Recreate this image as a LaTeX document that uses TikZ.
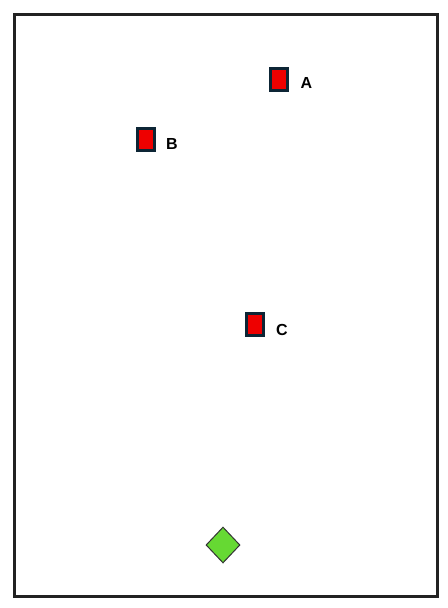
\documentclass[tikz,border=0pt]{standalone}
\usepackage{fontspec}
\setmainfont{Liberation Sans}
\usetikzlibrary{shapes.geometric}
\definecolor{frame}{HTML}{222222}
\definecolor{boxedge}{HTML}{0D2535}
\definecolor{boxred}{HTML}{EE0000}
\definecolor{green1}{HTML}{66D933}
\begin{document}
\begin{tikzpicture}[x=0.75pt,y=-0.75pt,
  redbox/.style={draw=boxedge,fill=boxred,line width=2.25pt,inner sep=0pt,minimum width=12.75pt,minimum height=16.5pt},
  lbl/.style={font=\fontsize{12pt}{14pt}\selectfont\bfseries,inner sep=0pt},
  goal/.style={diamond,draw=black!80,fill=green1,line width=0.75pt,inner sep=0pt,minimum width=25.5pt,minimum height=27pt}]
\useasboundingbox (0,0) rectangle (448,608);
\draw[frame,line width=2.25pt] (14.5,14.5) rectangle (437.5,596.5);
\node[redbox] (A) at (279,79.5) {};
\node[redbox] (B) at (146,139.5) {};
\node[redbox] (C) at (255,324.5) {};
\node[lbl] (lA) at (306.5,83) {A};
\node[lbl] (lB) at (172,144) {B};
\node[lbl] (lC) at (282,329.5) {C};
\node[goal] (D) at (223,545) {};
\end{tikzpicture}
\end{document}
